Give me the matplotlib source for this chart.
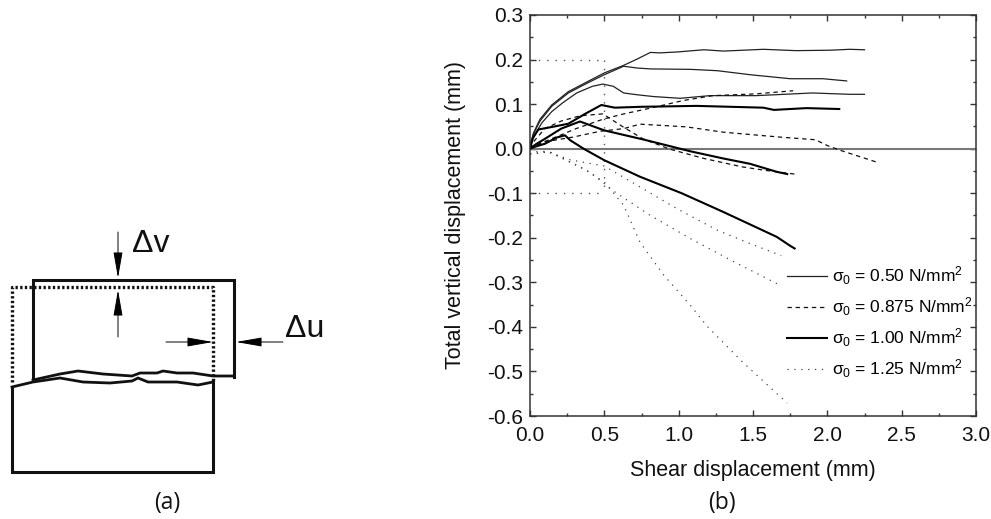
import matplotlib
matplotlib.use("Agg")
import matplotlib.pyplot as plt

plt.rcParams['font.family'] = ['Liberation Sans', 'DejaVu Sans']
plt.rcParams['mathtext.fontset'] = 'custom'
plt.rcParams['mathtext.rm'] = 'Liberation Sans'
plt.rcParams['mathtext.it'] = 'Liberation Sans'
plt.rcParams['mathtext.bf'] = 'Liberation Sans:bold'

# sigma 0.50
a_x = [0, 0.01, 0.022, 0.067, 0.146, 0.258, 0.39, 0.5, 0.63, 0.72, 0.81, 0.87, 0.99, 1.17, 1.3, 1.57, 1.79, 2.02, 2.15, 2.25]
a_y = [0, 0.018, 0.034, 0.066, 0.098, 0.128, 0.151, 0.17, 0.187, 0.201, 0.216, 0.215, 0.217, 0.222, 0.219, 0.223, 0.220, 0.221, 0.223, 0.222]
b_x = [0, 0.01, 0.022, 0.067, 0.146, 0.258, 0.39, 0.5, 0.63, 0.72, 0.81, 1.08, 1.26, 1.48, 1.75, 1.97, 2.13]
b_y = [0, 0.016, 0.032, 0.062, 0.095, 0.125, 0.148, 0.166, 0.185, 0.181, 0.179, 0.178, 0.175, 0.166, 0.157, 0.157, 0.152]
c_x = [0, 0.01, 0.03, 0.08, 0.146, 0.22, 0.314, 0.42, 0.49, 0.56, 0.63, 0.72, 0.83, 1.01, 1.21, 1.52, 1.9, 2.15, 2.25]
c_y = [0, 0.016, 0.03, 0.058, 0.083, 0.103, 0.125, 0.14, 0.145, 0.14, 0.125, 0.121, 0.117, 0.113, 0.119, 0.119, 0.125, 0.122, 0.122]

# sigma 0.875
g_x = [0, 0.07, 0.18, 0.31, 0.49, 0.63, 0.81, 1.03, 1.23, 1.52, 1.77]
g_y = [0, 0.012, 0.027, 0.045, 0.066, 0.078, 0.091, 0.108, 0.119, 0.123, 0.13]
h_x = [0, 0.03, 0.1, 0.21, 0.34, 0.49, 0.63, 0.76, 0.94, 1.17, 1.43, 1.59, 1.78]
h_y = [0, 0.018, 0.045, 0.062, 0.074, 0.078, 0.048, 0.022, -0.001, -0.022, -0.041, -0.049, -0.057]
i_x = [0, 0.09, 0.29, 0.47, 0.63, 0.74, 1.05, 1.3, 1.68, 1.92, 2.0, 2.09, 2.33]
i_y = [0, 0.015, 0.026, 0.039, 0.045, 0.055, 0.049, 0.037, 0.026, 0.02, 0.007, -0.004, -0.03]

# sigma 1.00
d_x = [0, 0.02, 0.056, 0.168, 0.258, 0.37, 0.48, 0.57, 0.75, 1.12, 1.57, 1.64, 1.86, 2.08]
d_y = [0, 0.024, 0.043, 0.05, 0.056, 0.078, 0.098, 0.092, 0.094, 0.096, 0.092, 0.087, 0.091, 0.089]
e_x = [0, 0.04, 0.1, 0.21, 0.336, 0.5, 0.77, 1.08, 1.3, 1.48, 1.66, 1.73]
e_y = [0, 0.01, 0.022, 0.045, 0.061, 0.041, 0.02, -0.006, -0.022, -0.034, -0.052, -0.057]
f_x = [0, 0.04, 0.1, 0.18, 0.235, 0.27, 0.36, 0.5, 0.74, 1.02, 1.3, 1.66, 1.75, 1.78]
f_y = [0, 0.005, 0.011, 0.025, 0.03, 0.019, 0, -0.026, -0.063, -0.1, -0.142, -0.198, -0.218, -0.224]

# sigma 1.25
j_x = [0, 0.03, 0.11, 0.27, 0.5, 0.72, 0.99, 1.26, 1.48, 1.69]
j_y = [-0.012, -0.007, -0.006, -0.025, -0.039, -0.082, -0.135, -0.183, -0.213, -0.24]
k_x = [0, 0.13, 0.4, 0.57, 0.81, 1.08, 1.35, 1.69]
k_y = [-0.012, -0.007, -0.052, -0.097, -0.15, -0.202, -0.25, -0.308]
l_x = [0, 0.13, 0.36, 0.5, 0.63, 0.74, 0.9, 1.08, 1.19, 1.43, 1.73]
l_y = [-0.012, -0.007, -0.045, -0.075, -0.127, -0.21, -0.284, -0.352, -0.398, -0.479, -0.571]

x_ticks = [0, 0.5, 1, 1.5, 2, 2.5, 3]
x_tick_labels = ['0.0', '0.5', '1.0', '1.5', '2.0', '2.5', '3.0']
y_ticks = [-0.6, -0.5, -0.4, -0.3, -0.2, -0.1, 0, 0.1, 0.2, 0.3]
y_tick_labels = ['-0.6', '-0.5', '-0.4', '-0.3', '-0.2', '-0.1', '0.0', '0.1', '0.2', '0.3']

labels = [r'$\sigma_0$ = 0.50 N/mm$^2$', r'$\sigma_0$ = 0.875 N/mm$^2$',
          r'$\sigma_0$ = 1.00 N/mm$^2$', r'$\sigma_0$ = 1.25 N/mm$^2$']

# sketch (a), pixel positions
top_x = [33, 33, 234, 234]
top_y = [380, 280, 280, 377]
dot_x = [12, 12, 213, 213]
dot_y = [382, 287, 287, 382]
low_x = [12, 12, 213, 213]
low_y = [387, 472, 472, 382]
rough1_x = [33, 60, 78, 103, 132, 140, 157, 163, 177, 193, 213, 234]
rough1_y = [380, 374, 371, 374, 376, 373, 373, 371, 373, 373, 376, 376]
rough2_x = [12, 33, 60, 83, 110, 132, 138, 148, 177, 198, 213]
rough2_y = [387, 382, 378, 382, 383, 381, 378, 382, 382, 385, 382]

fig = plt.figure(figsize=(9.91, 5.19), dpi=100)
ax = fig.add_axes([530/991, 1-416/519, (976-530)/991, (416-15)/519])

ax.axhline(0, color='#777777', lw=1.5)
ax.plot([0, 0.5], [0.2, 0.2], color='#555555', lw=1, ls=(0, (1, 5)))
ax.plot([0, 0.5], [-0.1, -0.1], color='#555555', lw=1, ls=(0, (1, 5)))
ax.plot([0.5, 0.5], [0.2, -0.1], color='#555555', lw=1, ls=(0, (1, 5)))

thin = dict(color='#222222', lw=0.9)
dash = dict(color='#111111', lw=0.9, ls=(0, (3.5, 3)))
thick = dict(color='black', lw=1.5)
dots = dict(color='#444444', lw=0.9, ls=(0, (1, 4.5)))

l1, = ax.plot(a_x, a_y, **thin)
ax.plot(b_x, b_y, **thin)
ax.plot(c_x, c_y, **thin)
l2, = ax.plot(g_x, g_y, **dash)
ax.plot(h_x, h_y, **dash)
ax.plot(i_x, i_y, **dash)
l3, = ax.plot(d_x, d_y, **thick)
ax.plot(e_x, e_y, **thick)
ax.plot(f_x, f_y, **thick)
l4, = ax.plot(j_x, j_y, **dots)
ax.plot(k_x, k_y, **dots)
ax.plot(l_x, l_y, **dots)

ax.set_xlim(0, 3)
ax.set_ylim(-0.6, 0.3)
ax.set_xticks(x_ticks)
ax.set_yticks(y_ticks)
ax.set_xticks([0.25, 0.75, 1.25, 1.75, 2.25, 2.75], minor=True)
ax.set_yticks([-0.55, -0.45, -0.35, -0.25, -0.15, -0.05, 0.05, 0.15, 0.25], minor=True)
ax.set_xticklabels(x_tick_labels)
ax.set_yticklabels(y_tick_labels)
ax.tick_params(which='major', direction='in', length=4.3, width=1, top=True, right=True, labelsize=15, color='#333333', labelcolor='#111111')
ax.tick_params(axis='x', which='major', pad=7.5)
ax.tick_params(axis='y', which='major', pad=5)
ax.tick_params(which='minor', direction='in', length=2.2, width=1, top=True, right=True, color='#333333')
for s in ax.spines.values():
    s.set_linewidth(1.1)
    s.set_color('#333333')
ax.set_xlabel('Shear displacement (mm)', fontsize=15.5, labelpad=10.5, color='#111111')
ax.set_ylabel('Total vertical displacement (mm)', fontsize=15.5, labelpad=15, color='#111111')

ax.legend([l1, l2, l3, l4], labels, frameon=False, fontsize=12.5, loc='lower left',
          bbox_to_anchor=(0.576, 0.09), labelspacing=0.48, handlelength=2.3, handletextpad=0.3,
          borderpad=0, borderaxespad=0)

# overlay in pixels for the sketch
ov = fig.add_axes([0, 0, 1, 1])
ov.set_xlim(0, 991)
ov.set_ylim(519, 0)
ov.axis('off')
ov.plot(top_x, top_y, color='#111111', lw=2.2, solid_joinstyle='miter')
ov.plot(low_x, low_y, color='#111111', lw=2.2, solid_joinstyle='miter')
ov.plot(dot_x, dot_y, color='#111111', lw=2.4, ls=(0, (0.7, 0.7)))
ov.plot(rough1_x, rough1_y, color='#111111', lw=2)
ov.plot(rough2_x, rough2_y, color='#111111', lw=2)

arrow = dict(arrowstyle='-|>,head_length=0.8,head_width=0.14', color='black', lw=0.7, shrinkA=0, shrinkB=0, mutation_scale=20)
ov.annotate('', xy=(118, 278), xytext=(118, 232), arrowprops=arrow)
ov.annotate('', xy=(118, 290), xytext=(118, 337), arrowprops=arrow)
ov.annotate('', xy=(213, 342), xytext=(166, 342), arrowprops=arrow)
ov.annotate('', xy=(236, 342), xytext=(283, 342), arrowprops=arrow)

ov.text(132, 252, '\u0394v', fontsize=23, va='baseline', ha='left', color='#111111')
ov.text(285, 337, '\u0394u', fontsize=23, va='baseline', ha='left', color='#111111')
ov.text(167, 503, '(a)', fontsize=16.5, family=['Open Sans', 'DejaVu Sans'], va='center', ha='center', color='#111111')
ov.text(722, 503, '(b)', fontsize=16.5, family=['Open Sans', 'DejaVu Sans'], va='center', ha='center', color='#111111')

fig.savefig('out.png', dpi=100)
